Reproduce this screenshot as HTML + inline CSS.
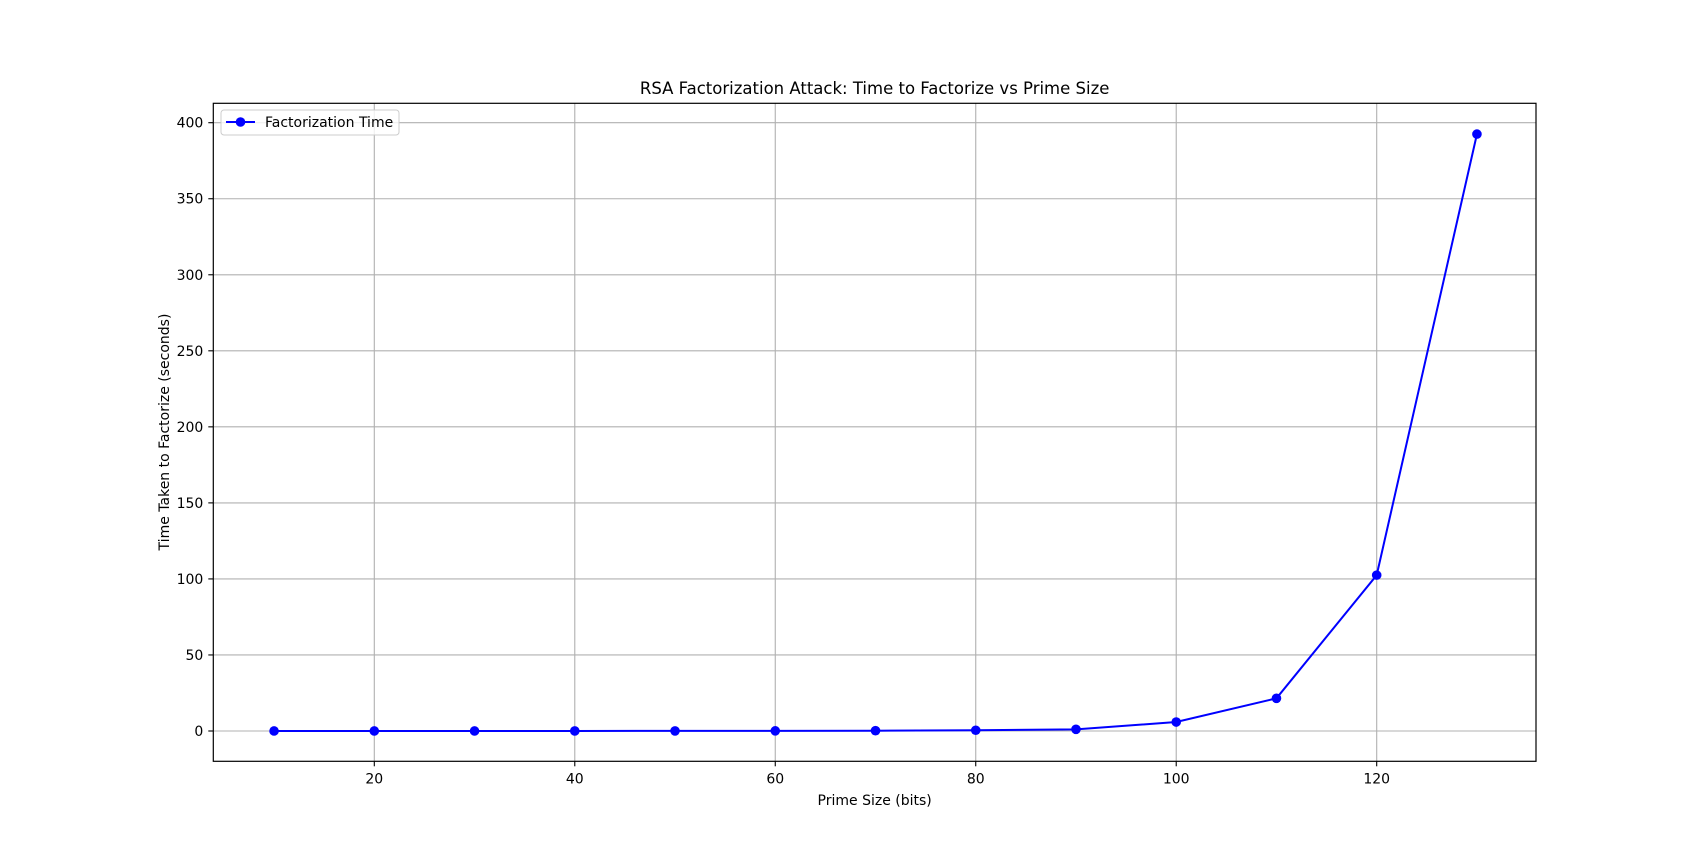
<!DOCTYPE html>
<html><head><meta charset="utf-8"><style>
body{margin:0;background:#fff;}
svg{display:block;font-family:"DejaVu Sans","Liberation Sans",sans-serif;}
</style></head><body>
<svg id="chart" width="1707" height="855"></svg>
<script>
const xValues=[10,20,30,40,50,60,70,80,90,100,110,120,130];
const yValues=[0.01,0.01,0.02,0.03,0.05,0.1,0.2,0.5,1.1,5.9,21.5,102.5,392.5];
const xTicks=[20,40,60,80,100,120];
const yTicks=[0,50,100,150,200,250,300,350,400];
const L=213.3,R=1536,T=103.3,B=761.3;
function sx(v){return 374.3+(v-20)*10.024;}
function sy(v){return 731-(v)*(731-122.7)/400;}
const NS="http://www.w3.org/2000/svg";
const svg=document.getElementById('chart');
function mk(tag,attrs,parent){const e=document.createElementNS(NS,tag);for(const k in attrs)e.setAttribute(k,attrs[k]);(parent||svg).appendChild(e);return e;}
const grid=mk('g',{});


xTicks.forEach(t=>{const x=sx(t);
 const g=mk('line',{x1:x,x2:x,y1:T,y2:B,stroke:'#b0b0b0','stroke-width':1.1},grid);
 
 const tk=mk('line',{x1:x,x2:x,y1:B,y2:B+5,stroke:'#000','stroke-width':1.1});
 
 const lb=mk('text',{x:x,y:B+22,'text-anchor':'middle','font-size':14,fill:'#000'});lb.textContent=t;
 
});
yTicks.forEach(t=>{const y=sy(t);
 const g=mk('line',{x1:L,x2:R,y1:y,y2:y,stroke:'#b0b0b0','stroke-width':1.1},grid);
 
 const tk=mk('line',{x1:L-5,x2:L,y1:y,y2:y,stroke:'#000','stroke-width':1.1});
 
 const lb=mk('text',{x:L-10,y:y+5,'text-anchor':'end','font-size':14,fill:'#000'});lb.textContent=t;
 
});
const line=mk('polyline',{points:xValues.map((x,i)=>sx(x)+','+sy(yValues[i])).join(' '),fill:'none',stroke:'#0000ff','stroke-width':2});


xValues.forEach((x,i)=>{const c=mk('circle',{cx:sx(x),cy:sy(yValues[i]),r:4.8,fill:'#0000ff'});
 
 });
const frame=mk('rect',{x:L,y:T,width:R-L,height:B-T,fill:'none',stroke:'#000','stroke-width':1.2});


const title=mk('text',{x:(L+R)/2,y:94,'text-anchor':'middle','font-size':16.5,fill:'#000'});
title.textContent='RSA Factorization Attack: Time to Factorize vs Prime Size';


const xt=mk('text',{x:(L+R)/2,y:805,'text-anchor':'middle','font-size':14,fill:'#000'});
xt.textContent='Prime Size (bits)';


const yt=mk('text',{x:0,y:0,'text-anchor':'middle','font-size':14,fill:'#000',transform:'translate(169,432) rotate(-90)'});
yt.textContent='Time Taken to Factorize (seconds)';


const lg=mk('g',{});


mk('rect',{x:221,y:110,width:178,height:25,rx:3,fill:'#fff','fill-opacity':0.8,stroke:'#ccc'},lg);
mk('line',{x1:226,x2:255,y1:122,y2:122,stroke:'#0000ff','stroke-width':2},lg);
mk('circle',{cx:240.5,cy:122,r:4.8,fill:'#0000ff'},lg);
const lt=mk('text',{x:265,y:127,'font-size':14,fill:'#000'},lg);
lt.textContent='Factorization Time';


</script>
</body></html>
